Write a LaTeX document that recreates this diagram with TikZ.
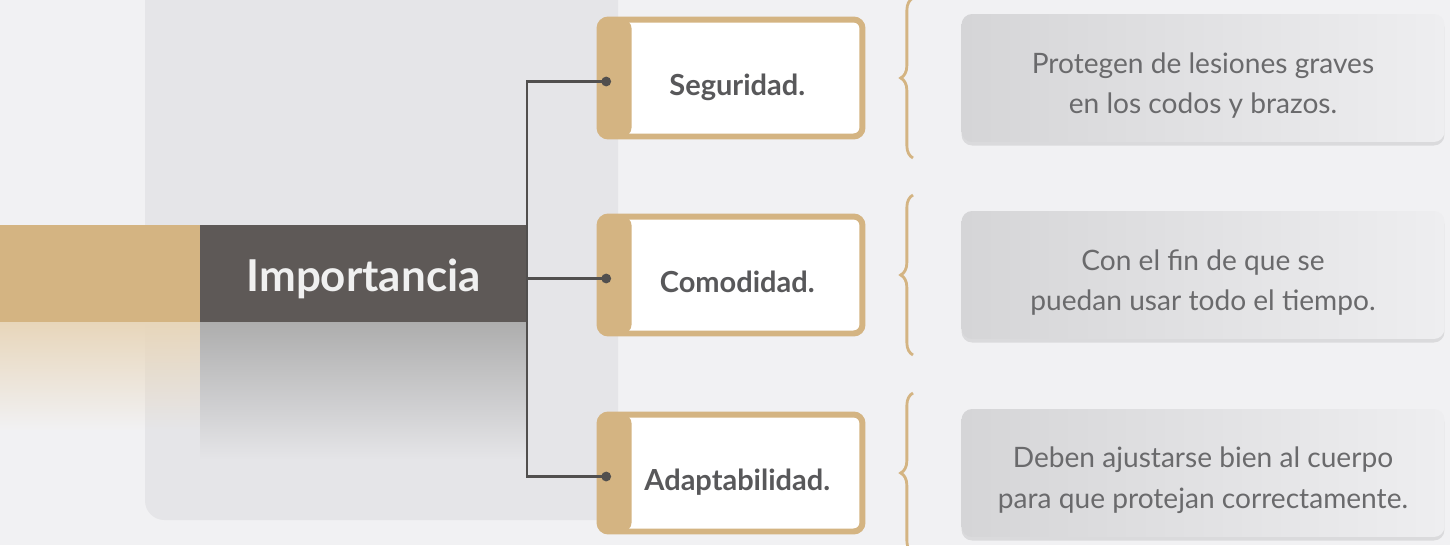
\documentclass[tikz,border=0pt]{standalone}
\usepackage{fontspec}
\setmainfont{Lato}
\usetikzlibrary{decorations.pathreplacing,shadows}

\definecolor{beltan}{HTML}{D4B482}
\definecolor{barGray}{HTML}{5E5957}
\definecolor{lineGray}{HTML}{514F4E}
\definecolor{labelGray}{HTML}{58585A}
\definecolor{textGray}{HTML}{6A6A6C}
\definecolor{paperGray}{HTML}{F1F1F3}
\definecolor{panelGray}{HTML}{E5E5E8}
\definecolor{noteDark}{HTML}{D5D5D7}
\definecolor{noteLight}{HTML}{EEEEF0}

% pushes the first line of a note down a little
\def\notepad{\rule{0pt}{20pt}}

\tikzset{
  impbar/.style={fill=barGray, text=white!94!black, inner sep=0pt,
    font=\bfseries\fontsize{25}{27}\selectfont,
    minimum width=6.54cm, minimum height=1.94cm},
  tagbox/.style={draw=beltan, line width=3.4pt, fill=white, rounded corners=5pt,
    minimum width=5.26cm, minimum height=2.34cm, text=labelGray,
    font=\bfseries\fontsize{16.5}{18}\selectfont,
    path picture={\fill[beltan] (path picture bounding box.north west)
      rectangle ([xshift=0.64cm]path picture bounding box.south west);}},
  notebox/.style={rounded corners=6pt, left color=noteDark, right color=noteLight,
    minimum width=9.66cm, minimum height=2.56cm, align=center, text=textGray,
    font=\fontsize{16}{22.8}\selectfont,
    drop shadow={opacity=0.2, shadow xshift=0pt, shadow yshift=-2pt}},
  tanbrace/.style={draw=beltan, line width=1.6pt, decorate,
    decoration={brace, amplitude=7pt}},
  link/.style={draw=lineGray, line width=1.3pt},
}

\begin{document}
\begin{tikzpicture}[x=0.02cm,y=-0.02cm]
  \useasboundingbox (0,0) rectangle (1450,545);

  % paper and the left panel
  \fill[paperGray] (0,0) rectangle (1450,545);
  \fill[panelGray, rounded corners=11pt] (145,-30) rectangle (618,520);
  \shade[top color=beltan!55, bottom color=paperGray] (0,322) rectangle (145,430);
  \shade[top color=beltan!55, bottom color=panelGray] (145,322) rectangle (200,430);
  \shade[top color=black!32, bottom color=panelGray] (200,322) rectangle (527,460);

  % main bar
  \fill[beltan] (0,225) rectangle (200,322);
  \node[impbar] (imp) at (363.5,273.5) {\raisebox{-10.5pt}[0pt][0pt]{Importancia}};

  % the three rows
  \foreach \i/\y/\lab in {1/78/Seguridad., 2/275/Comodidad., 3/473/Adaptabilidad.} {
    \node[tagbox] (tag\i) at (731,\y) {\hspace{0.25cm}\raisebox{-10pt}[0pt][0pt]{\lab}};
    \coordinate (dot\i) at ([xshift=5.5pt,yshift=-2pt]tag\i.west);
    \draw[tanbrace] (913,\y+80) -- (913,\y-80);
  }

  \node[notebox] (note1) at (1203,78) {\notepad Protegen de lesiones graves\\en los codos y brazos.};
  \node[notebox] (note2) at (1203,275) {\notepad Con el fin de que se\\puedan usar todo el tiempo.};
  \node[notebox] (note3) at (1203,473) {\notepad Deben ajustarse bien al cuerpo\\para que protejan correctamente.};

  % connectors
  \draw[link] (dot1) -- (dot1 -| imp.east) -- (dot3 -| imp.east) -- (dot3);
  \draw[link] (dot2 -| imp.east) -- (dot2);
  \foreach \i in {1,2,3}
    \fill[lineGray] (dot\i) circle (2.8pt);

\end{tikzpicture}
\end{document}
